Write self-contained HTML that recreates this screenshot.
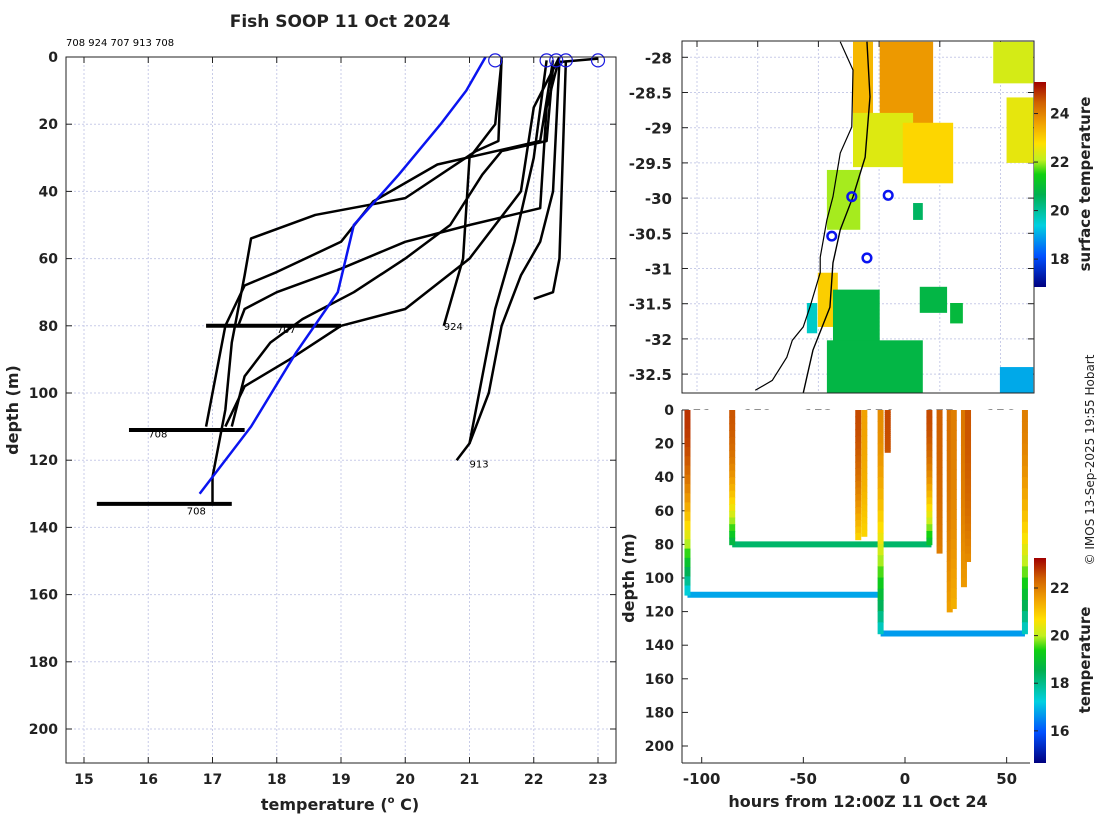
<!DOCTYPE html>
<html><head><meta charset="utf-8"><style>
html,body{margin:0;padding:0;background:#fff;width:1100px;height:820px;overflow:hidden}
svg text{font-family:"DejaVu Sans","Liberation Sans",sans-serif}
</style></head><body>
<svg id="fig" width="1100" height="820" viewBox="0 0 1100 820" xmlns="http://www.w3.org/2000/svg">
<defs>
<linearGradient id="cmap" x1="0" y1="1" x2="0" y2="0">
<stop offset="0" stop-color="#00007f"/><stop offset="0.15" stop-color="#0050ff"/><stop offset="0.3" stop-color="#00d0e0"/><stop offset="0.45" stop-color="#00b050"/><stop offset="0.55" stop-color="#10d010"/><stop offset="0.62" stop-color="#c0f020"/><stop offset="0.7" stop-color="#ffe000"/><stop offset="0.8" stop-color="#f0a000"/><stop offset="0.9" stop-color="#d06000"/><stop offset="1" stop-color="#a00000"/>
</linearGradient>
<clipPath id="mapclip"><rect x="682" y="41" width="352" height="352"/></clipPath>
</defs>
<text x="340" y="27" font-size="17" font-weight="bold" text-anchor="middle" fill="#222">Fish SOOP 11 Oct 2024</text>
<text x="66" y="46" font-size="10" fill="#000">708 924 707 913 708</text>
<g id="left"></g>
<g id="map"></g>
<g id="tdp"></g>
<text transform="translate(1094,460) rotate(-90)" font-size="12" text-anchor="middle" fill="#222">© IMOS 13-Sep-2025 19:55 Hobart</text>
</svg>
<script>
// ---------- Left panel data ----------
const tempTicks = [15,16,17,18,19,20,21,22,23];
const depthTicks = [0,20,40,60,80,100,120,140,160,180,200];
const climTemp = [21.25,20.95,20.55,19.9,19.2,18.95,18.3,17.6,16.8];
const climDepth = [0,10,20,35,50,70,88,110,130];
const profTemps = [
 [21.5,21.45,21.1,20.0,18.6,17.6,17.5,17.3,17.2,17.0,17.0],
 [22.3,22.1,20.5,19.5,19.0,18.0,17.5,17.2,17.0,16.9],
 [22.4,22.2,22.1,21.0,20.0,19.0,18.0,17.5,17.4],
 [21.5,21.4,21.0,20.9,20.6],
 [22.4,22.3,22.1,21.8,21.5,21.3,21.0,20.8],
 [22.5,22.4,22.3,22.0],
 [22.3,22.2,21.5,21.2,20.7,20.0,19.2,18.4,17.9,17.5,17.3],
 [22.4,22.0,21.8,21.0,20.0,19.0,18.2,17.5,17.2],
 [22.2,22.0,21.7,21.4,21.2,21.0]
];
const profDepths = [
 [0,25,28,42,47,54,65,85,105,125,133],
 [1,25,32,43,55,64,68,80,100,110],
 [0,15,45,50,55,63,70,75,80],
 [1,20,30,60,80],
 [1,40,55,65,80,100,115,120],
 [1,60,70,72],
 [3,25,28,35,50,60,70,78,85,95,110],
 [0,15,40,60,75,80,90,98,110],
 [1,30,55,75,95,115]
];
const spikeDepth = [133,111,80];
const spikeMin = [15.2,15.7,16.9];
const spikeMax = [17.3,17.5,19.0];
const surfTemps = [21.4,22.2,22.35,22.5,23.0];
const labelText = ["708","707","708","924","913"];
const labelTemp = [16.6,18.0,16.0,20.6,21.0];
const labelDepth = [135,81,112,80,121];

// ---------- Map data ----------
const lonTicks = [151,152,153,154,155,156];
const latTicks = [-28,-28.5,-29,-29.5,-30,-30.5,-31,-31.5,-32,-32.5];
const coastLon = [153.36,153.57,153.55,153.36,153.24,153.14,153.03,153.03,152.86,152.75,152.57,152.48,152.24,151.96];
const coastLat = [-27.78,-28.18,-28.99,-29.36,-29.98,-30.31,-30.84,-31.06,-31.55,-31.83,-32.02,-32.26,-32.59,-32.73];
const trackLon = [153.80,153.85,153.77,153.57,153.36,153.24,153.19,152.91,152.75];
const trackLat = [-27.78,-28.56,-29.42,-29.98,-30.45,-30.92,-31.55,-32.16,-32.77];
const stnLon = [153.55,154.15,153.22,153.8];
const stnLat = [-29.98,-29.96,-30.54,-30.85];
const patchLon0 = [153.57,154.01,153.57,154.39,153.14,155.88,156.1,152.99,153.24,153.14,154.67,155.17,155.99,152.81,154.56];
const patchLon1 = [153.90,154.89,154.56,155.22,153.69,156.54,156.54,153.32,154.01,154.72,155.12,155.38,156.54,152.98,154.72];
const patchLat0 = [-27.78,-27.78,-28.79,-28.93,-29.6,-27.78,-28.57,-31.06,-31.3,-32.02,-31.26,-31.49,-32.4,-31.49,-30.07];
const patchLat1 = [-29.03,-29.0,-29.56,-29.79,-30.45,-28.37,-29.5,-31.83,-32.06,-32.77,-31.63,-31.78,-32.77,-31.92,-30.31];
const patchSST = [23.3,23.7,22.4,22.9,22.0,22.3,22.5,23.0,20.8,20.8,20.8,20.9,19.0,19.6,20.5];

// ---------- Time-depth data ----------
const hourTicks = [-100,-50,0,50];
const castHour = [-107,-85,-23,-20,-12,-8.5,12,17,22,24,29,31,59];
const castMax = [110,80,77,75,133,25,80,85,120,118,105,90,133];
const castTopT = [22.8,22.5,22.6,21.5,21.8,22.6,22.6,22.4,22.2,22.0,22.1,22.5,22.0];
const castBotT = [17.0,18.5,20.8,20.8,17.3,22.5,18.8,22.0,21.5,21.3,21.6,21.8,17.3];
const botHour0 = [-107,-85,-12];
const botHour1 = [-12,13,59];
const botDepth = [110,80,133];
const botTemp = [16.8,18.3,16.7];

const NS='http://www.w3.org/2000/svg';
function mk(parent,tag,attrs){const e=document.createElementNS(NS,tag);for(const k in attrs)e.setAttribute(k,attrs[k]);parent.appendChild(e);return e;}
const stops=[[0,[0,0,127]],[0.15,[0,80,255]],[0.3,[0,208,224]],[0.45,[0,176,80]],[0.55,[16,208,16]],[0.62,[192,240,32]],[0.7,[255,224,0]],[0.8,[240,160,0]],[0.9,[208,96,0]],[1,[160,0,0]]];
function cmap(f){f=Math.max(0,Math.min(1,f));for(let i=1;i<stops.length;i++){if(f<=stops[i][0]){const a=stops[i-1],b=stops[i];const t=(f-a[0])/(b[0]-a[0]);const c=a[1].map((v,j)=>Math.round(v+(b[1][j]-v)*t));return `rgb(${c[0]},${c[1]},${c[2]})`;}}return 'rgb(160,0,0)';}

// ===== Left panel =====
const L=document.getElementById('left');
const X=t=>84+(t-15)*64.25, Y=d=>57+d*3.36;
mk(L,'rect',{x:66,y:57,width:550,height:706,fill:'#fff',stroke:'none'});
tempTicks.forEach(t=>{const g=mk(L,'line',{x1:X(t),x2:X(t),y1:57,y2:763,stroke:'#c8cce8','stroke-dasharray':'2,2','stroke-width':1});
 mk(L,'line',{x1:X(t),x2:X(t),y1:763,y2:757,stroke:'#222'});mk(L,'line',{x1:X(t),x2:X(t),y1:57,y2:63,stroke:'#222'});
 const tx=mk(L,'text',{x:X(t),y:784,'font-size':14,'font-weight':'bold','text-anchor':'middle',fill:'#222'});tx.textContent=t;});
depthTicks.forEach(d=>{const g=mk(L,'line',{x1:66,x2:616,y1:Y(d),y2:Y(d),stroke:'#c8cce8','stroke-dasharray':'2,2'});
 mk(L,'line',{x1:66,x2:72,y1:Y(d),y2:Y(d),stroke:'#222'});mk(L,'line',{x1:610,x2:616,y1:Y(d),y2:Y(d),stroke:'#222'});
 const tx=mk(L,'text',{x:58,y:Y(d)+5,'font-size':14,'font-weight':'bold','text-anchor':'end',fill:'#222'});tx.textContent=d;});
spikeDepth.forEach((d,i)=>{const l=mk(L,'line',{x1:X(spikeMin[i]),x2:X(spikeMax[i]),y1:Y(d),y2:Y(d),stroke:'#000','stroke-width':4});});
profTemps.forEach((ts,i)=>{const pts=ts.map((t,j)=>X(t)+','+Y(profDepths[i][j])).join(' ');const p=mk(L,'polyline',{points:pts,fill:'none',stroke:'#000','stroke-width':2.5,'stroke-linejoin':'round'});});
{const p=mk(L,'polyline',{points:climTemp.map((t,j)=>X(t)+','+Y(climDepth[j])).join(' '),fill:'none',stroke:'#0a14f0','stroke-width':2.5});}
mk(L,'line',{x1:X(22.4),y1:Y(1.5),x2:X(23.0),y2:Y(0.5),stroke:'#000','stroke-width':2.5});
surfTemps.forEach(t=>{const c=mk(L,'circle',{cx:X(t),cy:Y(1),r:6.5,fill:'none',stroke:'#1a1ae0','stroke-width':1.2});});
labelText.forEach((s,i)=>{const t=mk(L,'text',{x:X(labelTemp[i]),y:Y(labelDepth[i])+4,'font-size':10,fill:'#000'});t.textContent=s;});
mk(L,'rect',{x:66,y:57,width:550,height:706,fill:'none',stroke:'#222'});
{const t=mk(L,'text',{x:340,y:810,'font-size':16,'font-weight':'bold','text-anchor':'middle',fill:'#222'});t.innerHTML='temperature (<tspan font-size="10" dy="-7">o</tspan><tspan dy="7"> C)</tspan>';}
{const t=mk(L,'text',{transform:'translate(18,410) rotate(-90)','font-size':16,'font-weight':'bold','text-anchor':'middle',fill:'#222'});t.textContent='depth (m)';}

// ===== Map =====
const M=document.getElementById('map');
const MX=lo=>697+(lo-151)*60.7, MY=la=>57.3+(-28-la)*70.4;
const sMin=16.85,sMax=25.3;
lonTicks.forEach(lo=>{mk(M,'line',{x1:MX(lo),x2:MX(lo),y1:41,y2:393,stroke:'#c8cce8','stroke-dasharray':'2,2'});mk(M,'line',{x1:MX(lo),x2:MX(lo),y1:41,y2:47,stroke:'#222'});
 const t=mk(M,'text',{x:MX(lo),y:420,'font-size':14,'font-weight':'bold','text-anchor':'middle',fill:'#222'});t.textContent=lo;});
latTicks.forEach(la=>{mk(M,'line',{x1:682,x2:1034,y1:MY(la),y2:MY(la),stroke:'#c8cce8','stroke-dasharray':'2,2'});mk(M,'line',{x1:682,x2:688,y1:MY(la),y2:MY(la),stroke:'#222'});mk(M,'line',{x1:1028,x2:1034,y1:MY(la),y2:MY(la),stroke:'#222'});
 const t=mk(M,'text',{x:672,y:MY(la)+6,'font-size':15,'font-weight':'bold','text-anchor':'end',fill:'#222'});t.textContent=la;});
const PG=mk(M,'g',{'clip-path':'url(#mapclip)'});
patchSST.forEach((s,i)=>{const r=mk(PG,'rect',{x:MX(patchLon0[i]),y:MY(patchLat0[i]),width:MX(patchLon1[i])-MX(patchLon0[i]),height:MY(patchLat1[i])-MY(patchLat0[i]),fill:cmap((s-sMin)/(sMax-sMin))});});
{const p=mk(PG,'polyline',{points:coastLon.map((lo,j)=>MX(lo)+','+MY(coastLat[j])).join(' '),fill:'none',stroke:'#000','stroke-width':1.2});}
{const p=mk(PG,'polyline',{points:trackLon.map((lo,j)=>MX(lo)+','+MY(trackLat[j])).join(' '),fill:'none',stroke:'#000','stroke-width':1.4});}
stnLon.forEach((lo,i)=>{const c=mk(PG,'circle',{cx:MX(lo),cy:MY(stnLat[i]),r:4.3,fill:'none',stroke:'#0a14f0','stroke-width':2.5});});
mk(M,'rect',{x:682,y:41,width:352,height:352,fill:'none',stroke:'#222'});
mk(M,'rect',{x:1034,y:82,width:12,height:205,fill:'url(#cmap)',});
[18,20,22,24].forEach(v=>{const y=287-(v-sMin)/(sMax-sMin)*205;mk(M,'line',{x1:1034,x2:1038,y1:y,y2:y,stroke:'#222'});const t=mk(M,'text',{x:1050,y:y+5,'font-size':14,'font-weight':'bold',fill:'#222'});t.textContent=v;});
{const t=mk(M,'text',{transform:'translate(1090,184) rotate(-90)','font-size':15,'font-weight':'bold','text-anchor':'middle',fill:'#222'});t.textContent='surface temperature';}

// ===== Time-depth panel =====
const T=document.getElementById('tdp');
const HX=h=>905+h*2.033, HY=d=>410+d*1.68;
const tMin=14.65,tMax=23.26;
mk(T,'rect',{x:682,y:410,width:348,height:353,fill:'#fff'});
hourTicks.forEach(h=>{mk(T,'line',{x1:HX(h),x2:HX(h),y1:763,y2:757,stroke:'#222'});const t=mk(T,'text',{x:HX(h),y:784,'font-size':15,'font-weight':'bold','text-anchor':'middle',fill:'#222'});t.textContent=h;});
depthTicks.forEach(d=>{mk(T,'line',{x1:682,x2:688,y1:HY(d),y2:HY(d),stroke:'#222'});const t=mk(T,'text',{x:674,y:HY(d)+5,'font-size':14,'font-weight':'bold','text-anchor':'end',fill:'#222'});t.textContent=d;});
botDepth.forEach((d,i)=>{const l=mk(T,'line',{x1:HX(botHour0[i]),x2:HX(botHour1[i]),y1:HY(d),y2:HY(d),stroke:cmap((botTemp[i]-tMin)/(tMax-tMin)),'stroke-width':6});});
castHour.forEach((h,i)=>{const g=mk(T,'g',{});const n=20;for(let k=0;k<n;k++){const d0=castMax[i]*k/n,d1=castMax[i]*(k+1)/n;const f=Math.pow((k+0.5)/n,2.2);const tv=castTopT[i]+(castBotT[i]-castTopT[i])*f;mk(g,'line',{x1:HX(h),x2:HX(h),y1:HY(d0),y2:HY(d1)+0.8,stroke:cmap((tv-tMin)/(tMax-tMin)),'stroke-width':6});}});
mk(T,'line',{x1:682,x2:1030,y1:763,y2:763,stroke:'#222'});mk(T,'line',{x1:682,x2:682,y1:410,y2:763,stroke:'#222'});
mk(T,'rect',{x:1034,y:558,width:12,height:205,fill:'url(#cmap)',});
[16,18,20,22].forEach(v=>{const y=763-(v-tMin)/(tMax-tMin)*205;mk(T,'line',{x1:1034,x2:1038,y1:y,y2:y,stroke:'#222'});const t=mk(T,'text',{x:1050,y:y+5,'font-size':14,'font-weight':'bold',fill:'#222'});t.textContent=v;});
{const t=mk(T,'text',{transform:'translate(1090,660) rotate(-90)','font-size':15,'font-weight':'bold','text-anchor':'middle',fill:'#222'});t.textContent='temperature';}
{const t=mk(T,'text',{x:858,y:807,'font-size':16,'font-weight':'bold','text-anchor':'middle',fill:'#222'});t.textContent='hours from 12:00Z 11 Oct 24';}
{const t=mk(T,'text',{transform:'translate(634,578) rotate(-90)','font-size':16,'font-weight':'bold','text-anchor':'middle',fill:'#222'});t.textContent='depth (m)';}
</script>
</body></html>
